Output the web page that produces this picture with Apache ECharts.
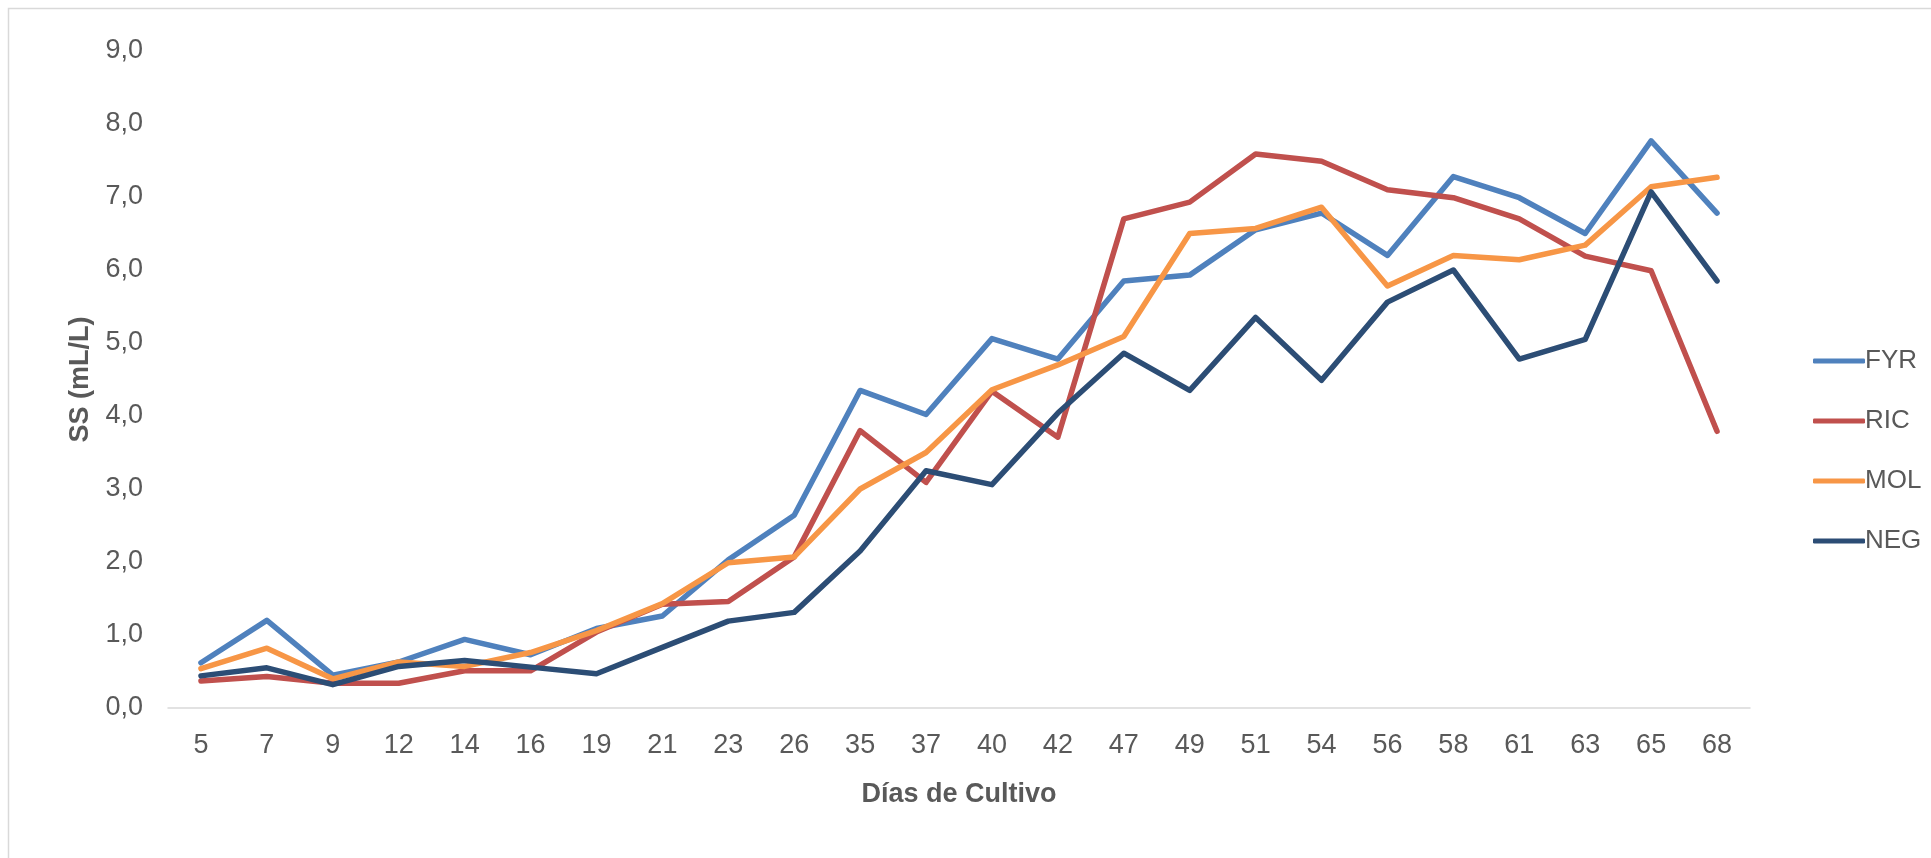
<!DOCTYPE html>
<html>
<head>
<meta charset="utf-8">
<title>SS (mL/L) - Días de Cultivo</title>
<script src="https://cdn.jsdelivr.net/npm/echarts@6/dist/echarts.min.js"></script>
<style>
  html, body { margin: 0; padding: 0; background: #ffffff; }
  #chart { width: 1931px; height: 858px; }
</style>
</head>
<body>
<div id="chart"></div>
<script>
// Days of culture (category axis)
const dias = ['5', '7', '9', '12', '14', '16', '19', '21', '23', '26', '35', '37', '40', '42', '47', '49', '51', '54', '56', '58', '61', '63', '65', '68'];

// Settleable solids, mL/L, per treatment
const fyr = [0.62, 1.20, 0.45, 0.63, 0.94, 0.73, 1.09, 1.26, 2.03, 2.64, 4.35, 4.02, 5.06, 4.78, 5.85, 5.93, 6.55, 6.78, 6.20, 7.28, 6.99, 6.50, 7.77, 6.78];
const ric = [0.37, 0.43, 0.34, 0.34, 0.51, 0.51, 1.04, 1.42, 1.46, 2.07, 3.80, 3.09, 4.34, 3.71, 6.70, 6.93, 7.59, 7.49, 7.10, 6.99, 6.70, 6.19, 5.99, 3.79];
const mol = [0.54, 0.82, 0.40, 0.63, 0.57, 0.76, 1.06, 1.43, 1.99, 2.07, 3.00, 3.50, 4.36, 4.70, 5.09, 6.50, 6.57, 6.86, 5.78, 6.20, 6.14, 6.34, 7.14, 7.27];
const neg = [0.44, 0.55, 0.32, 0.57, 0.65, 0.56, 0.47, 0.83, 1.19, 1.31, 2.15, 3.25, 3.06, 4.04, 4.86, 4.35, 5.35, 4.49, 5.56, 6.00, 4.78, 5.05, 7.07, 5.85];

const seriesNames = ['FYR', 'RIC', 'MOL', 'NEG'];
const seriesColors = ['#4F81BD', '#C0504D', '#F79646', '#2C4D75'];
const seriesData = [fyr, ric, mol, neg];

const FONT = "'Liberation Sans', Arial, sans-serif";
const TEXT = '#595959';

const chart = echarts.init(document.getElementById('chart'), null, { renderer: 'canvas' });

chart.setOption({
  backgroundColor: '#ffffff',
  animation: false,
  textStyle: { fontFamily: FONT, color: TEXT },
  graphic: [{
    type: 'rect',
    silent: true,
    shape: { x: 8.5, y: 8.5, width: 1960, height: 900 },
    style: { fill: 'none', stroke: '#D9D9D9', lineWidth: 1.5 }
  }],
  grid: { left: 168, right: 181, top: 51, bottom: 150, containLabel: false },
  legend: {
    orient: 'vertical',
    left: 1808,
    top: 343,
    itemWidth: 52,
    itemHeight: 5,
    itemGap: 34,
    icon: 'roundRect',
    textStyle: { fontFamily: FONT, fontSize: 26, color: TEXT, lineHeight: 26, padding: [0, 0, 0, -5] },
    data: seriesNames
  },
  xAxis: {
    type: 'category',
    data: dias,
    boundaryGap: true,
    name: 'Días de Cultivo',
    nameLocation: 'middle',
    nameGap: 73,
    nameTextStyle: { fontFamily: FONT, fontSize: 27, fontWeight: 'bold', color: TEXT },
    axisLine: { lineStyle: { color: '#D9D9D9', width: 1.5 } },
    axisTick: { show: false },
    axisLabel: { fontFamily: FONT, fontSize: 27, color: TEXT, margin: 24, interval: 0 },
    splitLine: { show: false }
  },
  yAxis: {
    type: 'value',
    min: 0,
    max: 9,
    interval: 1,
    name: 'SS (mL/L)',
    nameLocation: 'middle',
    nameGap: 74,
    nameTextStyle: { fontFamily: FONT, fontSize: 27, fontWeight: 'bold', color: TEXT },
    axisLine: { show: false },
    axisTick: { show: false },
    splitLine: { show: false },
    axisLabel: {
      fontFamily: FONT, fontSize: 27, color: TEXT, margin: 25,
      formatter: v => v.toFixed(1).replace('.', ',')
    }
  },
  series: seriesNames.map((name, i) => ({
    name: name,
    type: 'line',
    data: seriesData[i],
    symbol: 'none',
    color: seriesColors[i],
    lineStyle: { width: 5.5, color: seriesColors[i], cap: 'round', join: 'round' },
    emphasis: { disabled: true }
  }))
});
</script>
</body>
</html>
